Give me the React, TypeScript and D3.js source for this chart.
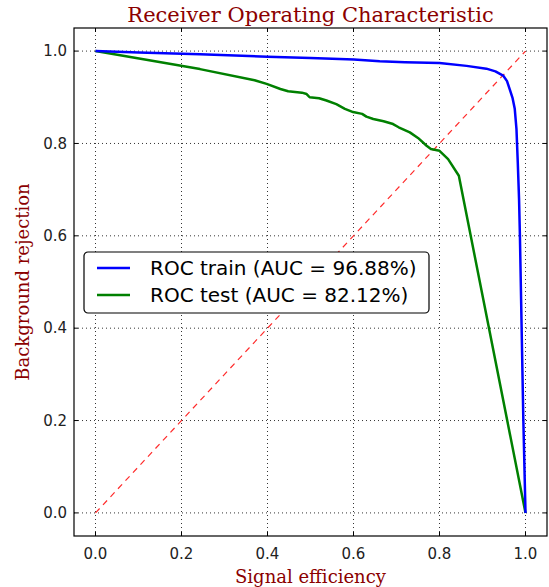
import React, { useEffect, useRef } from "react";
import * as d3 from "d3";

// ROC curves: [signal efficiency, background rejection]
const trainRoc: [number, number][] = [
  [0.0, 1.0], [0.1, 0.997], [0.243, 0.993], [0.4, 0.988], [0.5, 0.985],
  [0.601, 0.982], [0.661, 0.978], [0.72, 0.976], [0.8, 0.974], [0.863, 0.968],
  [0.909, 0.962], [0.93, 0.956], [0.948, 0.947], [0.957, 0.935], [0.963, 0.918],
  [0.97, 0.898], [0.975, 0.875], [0.979, 0.831], [0.982, 0.76], [0.985, 0.68],
  [0.987, 0.6], [0.99, 0.45], [0.995, 0.2], [1.0, 0.0],
];

const testRoc: [number, number][] = [
  [0.0, 1.0], [0.243, 0.961], [0.37, 0.937], [0.398, 0.929], [0.43, 0.918],
  [0.448, 0.913], [0.48, 0.91], [0.491, 0.907], [0.498, 0.9], [0.52, 0.898],
  [0.537, 0.893], [0.56, 0.885], [0.58, 0.875], [0.599, 0.868], [0.62, 0.864],
  [0.63, 0.858], [0.646, 0.853], [0.67, 0.848], [0.692, 0.842], [0.705, 0.835],
  [0.731, 0.824], [0.75, 0.812], [0.77, 0.795], [0.78, 0.788], [0.8, 0.784],
  [0.82, 0.766], [0.845, 0.73], [1.0, 0.0],
];

const diagonal: [number, number][] = [[0, 0], [1, 1]];

const xTicks = [0.0, 0.2, 0.4, 0.6, 0.8, 1.0];
const yTicks = [0.0, 0.2, 0.4, 0.6, 0.8, 1.0];

const legendLabels = ["ROC train (AUC = 96.88%)", "ROC test (AUC = 82.12%)"];
const seriesColors = ["#0000ff", "#008000"];

const W = 549;
const H = 587;
const margin = { top: 28, right: 2, bottom: 51, left: 74 };

export default function App() {
  const svgRef = useRef<SVGSVGElement>(null);

  useEffect(() => {
    const svg = d3.select(svgRef.current);
    svg.selectAll("*").remove();

    const x = d3.scaleLinear().domain([-0.05, 1.05]).range([margin.left, W - margin.right]);
    const y = d3.scaleLinear().domain([-0.05, 1.05]).range([H - margin.bottom, margin.top]);

    const sans = "'DejaVu Sans', sans-serif";
    const serif = "'DejaVu Serif', serif";
    const labelColor = "#8b0000";

    // grid
    const grid = svg.append("g");
    xTicks.forEach((t) => {
      grid.append("line")
        .attr("x1", x(t)).attr("x2", x(t))
        .attr("y1", y.range()[0]).attr("y2", y.range()[1])
        .attr("stroke", "#000").attr("stroke-width", 0.8)
        .attr("stroke-dasharray", "1,3");
    });
    yTicks.forEach((t) => {
      grid.append("line")
        .attr("x1", x.range()[0]).attr("x2", x.range()[1])
        .attr("y1", y(t)).attr("y2", y(t))
        .attr("stroke", "#000").attr("stroke-width", 0.8)
        .attr("stroke-dasharray", "1,3");
    });

    const line = d3.line<[number, number]>()
      .x((d) => x(d[0]))
      .y((d) => y(d[1]));

    svg.append("path")
      .datum(diagonal)
      .attr("fill", "none")
      .attr("stroke", "#ff2a2a")
      .attr("stroke-width", 1.2)
      .attr("stroke-dasharray", "6,5")
      .attr("d", line);

    svg.append("path")
      .datum(testRoc)
      .attr("fill", "none")
      .attr("stroke", seriesColors[1])
      .attr("stroke-width", 2.5)
      .attr("stroke-linejoin", "round")
      .attr("d", line);

    svg.append("path")
      .datum(trainRoc)
      .attr("fill", "none")
      .attr("stroke", seriesColors[0])
      .attr("stroke-width", 2.5)
      .attr("stroke-linejoin", "round")
      .attr("d", line);

    // frame
    svg.append("rect")
      .attr("x", x.range()[0]).attr("y", y.range()[1])
      .attr("width", x.range()[1] - x.range()[0])
      .attr("height", y.range()[0] - y.range()[1])
      .attr("fill", "none").attr("stroke", "#000").attr("stroke-width", 1.2);

    // inward ticks on all four sides
    const tk = 4;
    xTicks.forEach((t) => {
      svg.append("line").attr("x1", x(t)).attr("x2", x(t))
        .attr("y1", y.range()[0]).attr("y2", y.range()[0] - tk).attr("stroke", "#000");
      svg.append("line").attr("x1", x(t)).attr("x2", x(t))
        .attr("y1", y.range()[1]).attr("y2", y.range()[1] + tk).attr("stroke", "#000");
      svg.append("text")
        .attr("x", x(t)).attr("y", y.range()[0] + 23)
        .attr("text-anchor", "middle")
        .attr("font-family", sans).attr("font-size", 15).attr("fill", "#222")
        .text(t.toFixed(1));
    });
    yTicks.forEach((t) => {
      svg.append("line").attr("x1", x.range()[0]).attr("x2", x.range()[0] + tk)
        .attr("y1", y(t)).attr("y2", y(t)).attr("stroke", "#000");
      svg.append("line").attr("x1", x.range()[1]).attr("x2", x.range()[1] - tk)
        .attr("y1", y(t)).attr("y2", y(t)).attr("stroke", "#000");
      svg.append("text")
        .attr("x", x.range()[0] - 7).attr("y", y(t)).attr("dy", "0.35em")
        .attr("text-anchor", "end")
        .attr("font-family", sans).attr("font-size", 15).attr("fill", "#222")
        .text(t.toFixed(1));
    });

    // title and axis labels
    const cx = (x.range()[0] + x.range()[1]) / 2;
    const cy = (y.range()[0] + y.range()[1]) / 2;
    svg.append("text")
      .attr("x", cx).attr("y", 22)
      .attr("text-anchor", "middle")
      .attr("font-family", serif).attr("font-size", 21).attr("fill", labelColor)
      .text("Receiver Operating Characteristic");
    svg.append("text")
      .attr("x", cx).attr("y", 583)
      .attr("text-anchor", "middle")
      .attr("font-family", serif).attr("font-size", 18).attr("fill", labelColor)
      .text("Signal efficiency");
    svg.append("text")
      .attr("transform", `translate(29,${cy}) rotate(-90)`)
      .attr("text-anchor", "middle")
      .attr("font-family", serif).attr("font-size", 18).attr("fill", labelColor)
      .text("Background rejection");

    // legend
    const lg = svg.append("g").attr("transform", "translate(84,252)");
    lg.append("rect")
      .attr("width", 345).attr("height", 61)
      .attr("rx", 4).attr("ry", 4)
      .attr("fill", "#fff").attr("stroke", "#000").attr("stroke-width", 1.2);
    legendLabels.forEach((label, i) => {
      const ly = 16 + i * 27;
      lg.append("line")
        .attr("x1", 13).attr("x2", 46)
        .attr("y1", ly).attr("y2", ly)
        .attr("stroke", seriesColors[i]).attr("stroke-width", 2.5);
      lg.append("text")
        .attr("x", 66).attr("y", ly).attr("dy", "0.35em")
        .attr("font-family", sans).attr("font-size", 20).attr("fill", "#000")
        .text(label);
    });
  }, []);

  return (
    <div style={{ width: W, height: H }}>
      <svg ref={svgRef} width={W} height={H} style={{ position: "absolute", left: 0, top: 0 }}></svg>
    </div>
  );
}
